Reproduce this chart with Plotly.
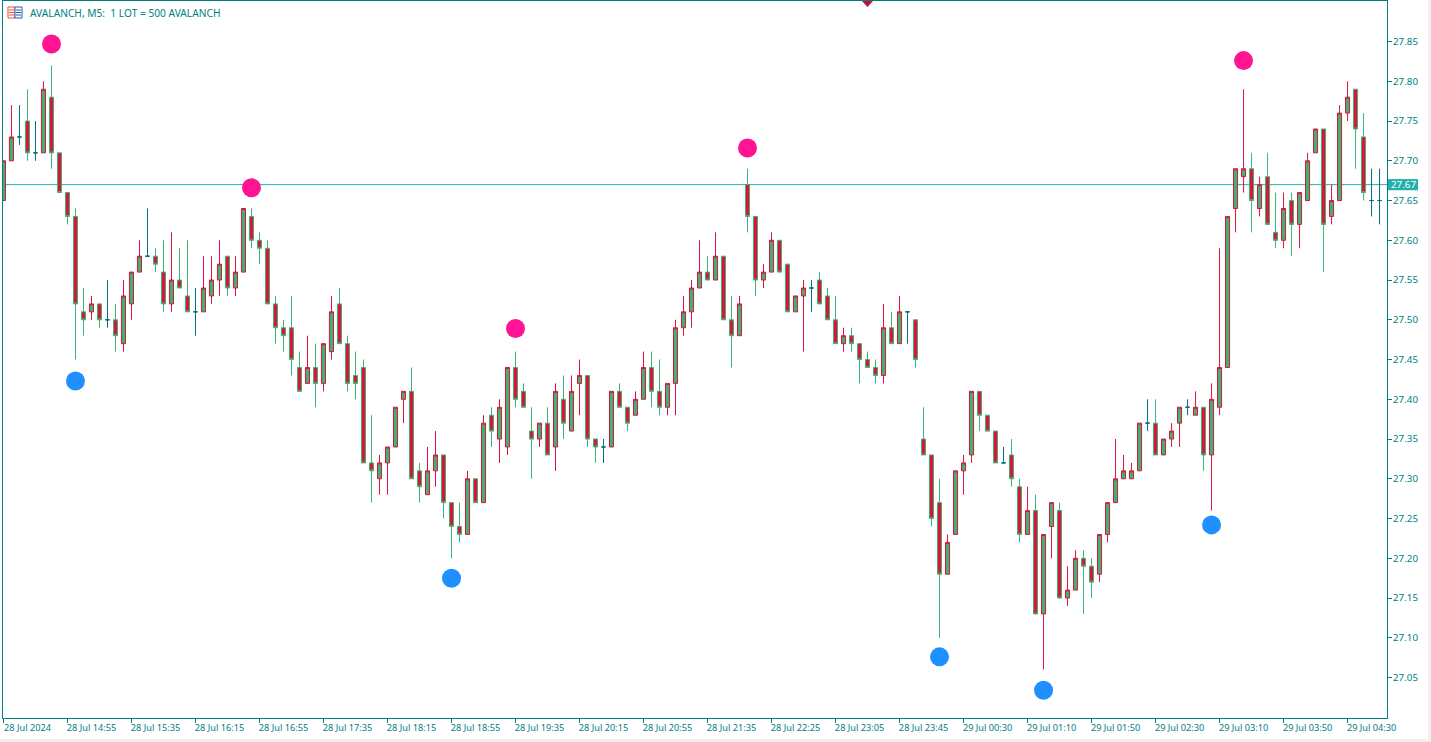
import plotly.graph_objects as go

# AVALANCH M5 candles (one entry per bar, 5 min apart)
open_px = [
    27.65, 27.70, 27.73, 27.75, 27.71, 27.71, 27.78, 27.71, 27.66, 27.63, 27.51, 27.51, 27.52, 27.50, 27.50,
    27.47, 27.52, 27.56, 27.58, 27.58, 27.56, 27.52, 27.55, 27.53, 27.51, 27.51, 27.53, 27.55, 27.58, 27.54,
    27.56, 27.63, 27.60, 27.59, 27.52, 27.49, 27.49, 27.44, 27.42, 27.44, 27.42, 27.46, 27.52, 27.47, 27.43,
    27.44, 27.32, 27.30, 27.32, 27.34, 27.40, 27.41, 27.31, 27.28, 27.31, 27.33, 27.27, 27.24, 27.23, 27.30,
    27.27, 27.38, 27.35, 27.34, 27.44, 27.41, 27.36, 27.35, 27.37, 27.34, 27.40, 27.36, 27.42, 27.43, 27.35,
    27.34, 27.34, 27.41, 27.39, 27.38, 27.40, 27.44, 27.41, 27.39, 27.42, 27.49, 27.51, 27.54, 27.56, 27.55,
    27.58, 27.50, 27.48, 27.67, 27.63, 27.55, 27.56, 27.60, 27.57, 27.51, 27.53, 27.54, 27.55, 27.53, 27.50,
    27.47, 27.48, 27.47, 27.45, 27.44, 27.43, 27.49, 27.47, 27.51, 27.50, 27.35, 27.33, 27.27, 27.18, 27.23,
    27.31, 27.33, 27.41, 27.38, 27.36, 27.32, 27.33, 27.29, 27.23, 27.26, 27.13, 27.24, 27.26, 27.15, 27.16,
    27.20, 27.19, 27.18, 27.23, 27.27, 27.30, 27.30, 27.31, 27.37, 27.37, 27.33, 27.35, 27.37, 27.39, 27.38,
    27.39, 27.33, 27.39, 27.44, 27.64, 27.68, 27.69, 27.64, 27.68, 27.61, 27.60, 27.65, 27.62, 27.65, 27.71,
    27.74, 27.63, 27.65, 27.76, 27.79, 27.73, 27.65, 27.65,
]
high_px = [
    27.70, 27.77, 27.77, 27.79, 27.75, 27.80, 27.82, 27.71, 27.66, 27.64, 27.54, 27.53, 27.52, 27.55, 27.52,
    27.55, 27.56, 27.60, 27.64, 27.59, 27.60, 27.61, 27.59, 27.60, 27.54, 27.58, 27.58, 27.60, 27.58, 27.58,
    27.64, 27.64, 27.61, 27.60, 27.53, 27.50, 27.53, 27.46, 27.48, 27.47, 27.47, 27.53, 27.54, 27.48, 27.46,
    27.45, 27.38, 27.33, 27.34, 27.39, 27.41, 27.44, 27.32, 27.34, 27.36, 27.33, 27.27, 27.27, 27.31, 27.30,
    27.38, 27.39, 27.40, 27.44, 27.46, 27.42, 27.39, 27.37, 27.39, 27.42, 27.43, 27.43, 27.45, 27.43, 27.35,
    27.35, 27.41, 27.42, 27.39, 27.41, 27.46, 27.46, 27.45, 27.42, 27.50, 27.53, 27.55, 27.60, 27.58, 27.61,
    27.58, 27.53, 27.53, 27.69, 27.63, 27.57, 27.61, 27.60, 27.57, 27.53, 27.55, 27.55, 27.56, 27.54, 27.53,
    27.49, 27.49, 27.47, 27.46, 27.45, 27.52, 27.51, 27.53, 27.51, 27.50, 27.39, 27.33, 27.30, 27.23, 27.31,
    27.33, 27.41, 27.41, 27.38, 27.36, 27.34, 27.35, 27.30, 27.29, 27.28, 27.23, 27.27, 27.27, 27.19, 27.21,
    27.21, 27.20, 27.23, 27.27, 27.35, 27.33, 27.32, 27.37, 27.40, 27.40, 27.35, 27.37, 27.39, 27.40, 27.41,
    27.39, 27.42, 27.59, 27.63, 27.69, 27.79, 27.71, 27.68, 27.71, 27.66, 27.66, 27.66, 27.66, 27.71, 27.74,
    27.74, 27.67, 27.77, 27.80, 27.79, 27.76, 27.69, 27.69,
]
low_px = [
    27.65, 27.70, 27.72, 27.70, 27.70, 27.71, 27.69, 27.66, 27.62, 27.45, 27.48, 27.50, 27.49, 27.49, 27.46,
    27.46, 27.50, 27.56, 27.58, 27.56, 27.51, 27.51, 27.54, 27.51, 27.48, 27.51, 27.52, 27.53, 27.53, 27.53,
    27.56, 27.59, 27.57, 27.52, 27.47, 27.46, 27.43, 27.41, 27.42, 27.39, 27.41, 27.45, 27.47, 27.41, 27.40,
    27.32, 27.27, 27.28, 27.28, 27.34, 27.37, 27.30, 27.27, 27.28, 27.29, 27.25, 27.20, 27.22, 27.23, 27.27,
    27.27, 27.34, 27.32, 27.33, 27.39, 27.39, 27.30, 27.34, 27.33, 27.31, 27.35, 27.36, 27.38, 27.34, 27.32,
    27.32, 27.34, 27.39, 27.36, 27.38, 27.40, 27.39, 27.38, 27.38, 27.38, 27.48, 27.49, 27.54, 27.55, 27.55,
    27.50, 27.44, 27.48, 27.61, 27.53, 27.54, 27.56, 27.56, 27.51, 27.51, 27.46, 27.51, 27.52, 27.50, 27.47,
    27.46, 27.46, 27.42, 27.44, 27.42, 27.42, 27.47, 27.47, 27.47, 27.44, 27.33, 27.24, 27.10, 27.18, 27.23,
    27.28, 27.32, 27.36, 27.36, 27.32, 27.32, 27.29, 27.22, 27.23, 27.13, 27.06, 27.20, 27.15, 27.14, 27.16,
    27.13, 27.15, 27.17, 27.22, 27.27, 27.30, 27.30, 27.31, 27.36, 27.33, 27.33, 27.34, 27.34, 27.38, 27.38,
    27.31, 27.26, 27.38, 27.44, 27.61, 27.66, 27.61, 27.63, 27.62, 27.59, 27.59, 27.58, 27.59, 27.65, 27.71,
    27.56, 27.62, 27.65, 27.75, 27.69, 27.65, 27.63, 27.62,
]
close_px = [
    27.70, 27.73, 27.73, 27.71, 27.71, 27.79, 27.71, 27.66, 27.63, 27.52, 27.50, 27.52, 27.50, 27.50, 27.48,
    27.53, 27.56, 27.58, 27.58, 27.57, 27.52, 27.55, 27.54, 27.51, 27.51, 27.54, 27.55, 27.57, 27.54, 27.56,
    27.64, 27.60, 27.59, 27.52, 27.49, 27.48, 27.45, 27.41, 27.44, 27.42, 27.47, 27.51, 27.47, 27.42, 27.42,
    27.32, 27.31, 27.32, 27.34, 27.39, 27.41, 27.30, 27.29, 27.31, 27.33, 27.27, 27.24, 27.23, 27.30, 27.27,
    27.37, 27.36, 27.39, 27.44, 27.40, 27.39, 27.35, 27.37, 27.33, 27.41, 27.37, 27.41, 27.43, 27.35, 27.34,
    27.34, 27.41, 27.39, 27.37, 27.40, 27.44, 27.41, 27.39, 27.42, 27.49, 27.51, 27.54, 27.56, 27.55, 27.58,
    27.50, 27.48, 27.52, 27.63, 27.55, 27.56, 27.60, 27.56, 27.51, 27.53, 27.54, 27.54, 27.52, 27.50, 27.47,
    27.48, 27.47, 27.45, 27.44, 27.43, 27.49, 27.47, 27.51, 27.51, 27.45, 27.33, 27.25, 27.18, 27.22, 27.31,
    27.32, 27.41, 27.38, 27.36, 27.32, 27.32, 27.30, 27.23, 27.26, 27.13, 27.23, 27.27, 27.15, 27.16, 27.20,
    27.19, 27.17, 27.23, 27.27, 27.30, 27.31, 27.31, 27.37, 27.37, 27.33, 27.35, 27.36, 27.39, 27.39, 27.39,
    27.33, 27.40, 27.44, 27.63, 27.69, 27.69, 27.65, 27.67, 27.62, 27.60, 27.64, 27.62, 27.66, 27.70, 27.74,
    27.62, 27.65, 27.76, 27.78, 27.74, 27.66, 27.65, 27.65,
]

# time axis labels, one every 8 bars
time_labels = [
    '28 Jul 2024', '28 Jul 14:55', '28 Jul 15:35', '28 Jul 16:15', '28 Jul 16:55', '28 Jul 17:35',
    '28 Jul 18:15', '28 Jul 18:55', '28 Jul 19:35', '28 Jul 20:15', '28 Jul 20:55', '28 Jul 21:35',
    '28 Jul 22:25', '28 Jul 23:05', '28 Jul 23:45', '29 Jul 00:30', '29 Jul 01:10', '29 Jul 01:50',
    '29 Jul 02:30', '29 Jul 03:10', '29 Jul 03:50', '29 Jul 04:30',
]
price_ticks = [27.05, 27.10, 27.15, 27.20, 27.25, 27.30, 27.35, 27.40, 27.45,
               27.50, 27.55, 27.60, 27.65, 27.70, 27.75, 27.80, 27.85]
last_price = 27.67

# fractal style dots
peak_idx = [6, 31, 64, 93, 155]
peak_px = [27.847, 27.666, 27.489, 27.716, 27.826]
trough_idx = [9, 56, 117, 130, 151]
trough_px = [27.423, 27.175, 27.076, 27.034, 27.242]

TEAL = '#007f7f'
W, H = 1431, 742
L, R, T, B = 3, 1387, 1, 718


def px_x(v):
    return (v - L) / (R - L)


def px_y(v):
    return (B - v) / (B - T)


bars = list(range(len(open_px)))
solid = [i for i in bars if open_px[i] != close_px[i]]
doji = [i for i in bars if open_px[i] == close_px[i]]

fig = go.Figure()

fig.add_hline(y=last_price, line_color='#20b2aa', line_width=1, layer='below')

fig.add_trace(go.Candlestick(
    x=solid,
    open=[open_px[i] for i in solid],
    high=[high_px[i] for i in solid],
    low=[low_px[i] for i in solid],
    close=[close_px[i] for i in solid],
    increasing=dict(line=dict(color='#dc143c', width=1), fillcolor='#3cb371'),
    decreasing=dict(line=dict(color='#3cb371', width=1), fillcolor='#dc143c'),
    hoverinfo='skip',
))
fig.add_trace(go.Candlestick(
    x=doji,
    open=[open_px[i] for i in doji],
    high=[high_px[i] for i in doji],
    low=[low_px[i] for i in doji],
    close=[close_px[i] for i in doji],
    increasing=dict(line=dict(color='#00707f', width=1), fillcolor='#00707f'),
    decreasing=dict(line=dict(color='#00707f', width=1), fillcolor='#00707f'),
    hoverinfo='skip',
))

fig.add_trace(go.Scatter(x=peak_idx, y=peak_px, mode='markers',
                         marker=dict(color='#ff1493', size=19), hoverinfo='skip'))
fig.add_trace(go.Scatter(x=trough_idx, y=trough_px, mode='markers',
                         marker=dict(color='#1e90ff', size=19), hoverinfo='skip'))

# window title
fig.add_annotation(text='AVALANCH, M5:  1 LOT = 500 AVALANCH', xref='paper', yref='paper',
                   x=px_x(27.5), y=px_y(12.5), xanchor='left', yanchor='middle', showarrow=False,
                   font=dict(family='Noto Sans', size=10.2, color=TEAL))

# last price tag
fig.add_shape(type='rect', xref='paper', yref='y', x0=px_x(1388), x1=px_x(1418),
              y0=last_price - 0.007, y1=last_price + 0.007, line_width=0, fillcolor='#20b2aa')
fig.add_annotation(text=f'{last_price:.2f}', xref='paper', yref='y', x=px_x(1403), y=last_price,
                   xanchor='center', yanchor='middle', showarrow=False,
                   font=dict(family='Noto Sans', size=9.8, color='white'))

# small table icon next to the title, and the red marker on the top edge
icon = [
    (8, 7, 15, 18, '#e8503a'),
    (15, 7, 22, 18, '#1f5fa8'),
]
for x0, y0, x1, y1, col in icon:
    fig.add_shape(type='rect', xref='paper', yref='paper', x0=px_x(x0), x1=px_x(x1),
                  y0=px_y(y1), y1=px_y(y0), line=dict(color=col, width=1), fillcolor='white')
    for row in (10, 12.5, 15):
        fig.add_shape(type='line', xref='paper', yref='paper', x0=px_x(x0 + 1), x1=px_x(x1 - 1),
                      y0=px_y(row), y1=px_y(row), line=dict(color=col, width=1))
fig.add_shape(type='path', xref='paper', yref='paper', fillcolor='#c2103c', line_width=0,
              path=f'M {px_x(862)} {px_y(1)} L {px_x(873)} {px_y(1)} L {px_x(867.5)} {px_y(7)} Z')

# pale window edge on the right and at the bottom
fig.add_shape(type='rect', xref='paper', yref='paper', x0=px_x(1428), x1=px_x(W),
              y0=px_y(H), y1=px_y(0), line_width=0, fillcolor='#f0f0f0')
fig.add_shape(type='rect', xref='paper', yref='paper', x0=px_x(0), x1=px_x(W),
              y0=px_y(H), y1=px_y(739), line_width=0, fillcolor='#f0f0f0')

fig.update_layout(
    width=W, height=H,
    margin=dict(l=L, r=W - R, t=T, b=H - B, pad=0),
    paper_bgcolor='white', plot_bgcolor='white',
    showlegend=False,
    boxgap=0.28,
    xaxis=dict(
        range=[-0.06, 172.93],
        rangeslider=dict(visible=False),
        tickmode='array',
        tickvals=bars[::8],
        ticktext=time_labels,
        ticks='outside', ticklen=4, tickcolor=TEAL,
        ticklabelshift=24,
        ticklabelstandoff=-3,
        showgrid=False, zeroline=False,
        showline=True, linecolor=TEAL, linewidth=1, mirror=True,
        tickfont=dict(family='Noto Sans', size=9.2, color=TEAL),
    ),
    yaxis=dict(
        side='right',
        range=[26.9991, 27.9010],
        tickmode='array',
        tickvals=price_ticks,
        tickformat='.2f',
        ticks='outside', ticklen=4, tickcolor=TEAL,
        ticklabelstandoff=-1,
        showgrid=False, zeroline=False,
        showline=True, linecolor=TEAL, linewidth=1, mirror=True,
        tickfont=dict(family='Noto Sans', size=9.8, color=TEAL),
    ),
)

fig.write_html('out.html', config=dict(displayModeBar=False),
               post_script="document.body.style.margin='0';")
